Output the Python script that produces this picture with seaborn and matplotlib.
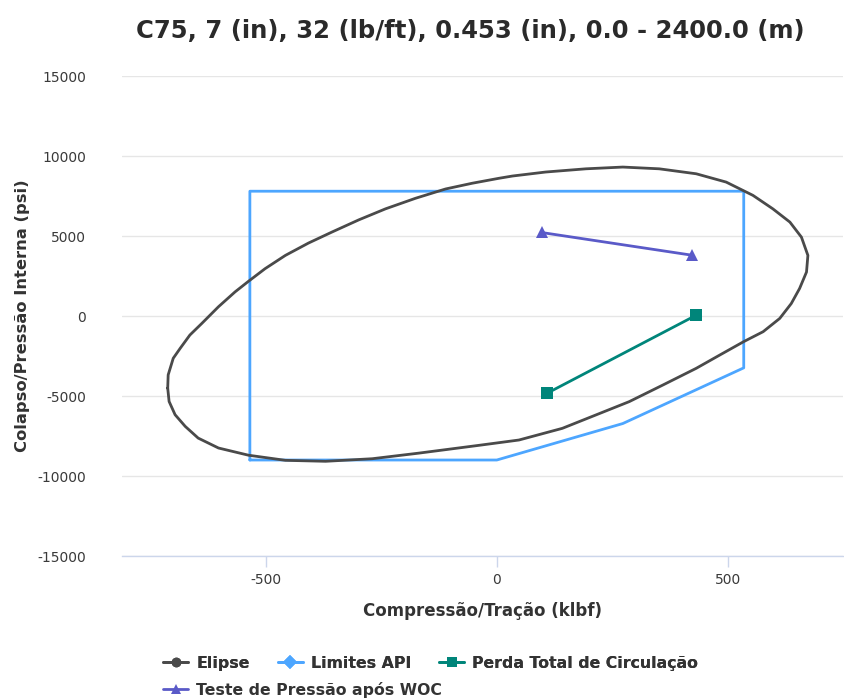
import matplotlib
matplotlib.use("Agg")
import matplotlib.pyplot as plt
import seaborn as sns
import pandas as pd
from matplotlib.lines import Line2D

# ---------------- data ----------------
title = "C75, 7 (in), 32 (lb/ft), 0.453 (in), 0.0 - 2400.0 (m)"
x_label = "Compressão/Tração (klbf)"
y_label = "Colapso/Pressão Interna (psi)"

ellipse_x = [-713, -712, -701, -686, -665, -639, -603, -567, -538, -502, -458, -408,
             -357, -299, -241, -176, -111, -53, 5, 34, 106, 193, 273, 352, 432, 497,
             555, 598, 635, 660, 674, 671, 656, 638, 613, 577, 535, 483, 432, 360,
             287, 215, 142, 48, -38, -169, -270, -371, -458, -538, -603, -647, -675,
             -697, -710, -713]
ellipse_y = [-4510, -3680, -2640, -2020, -1190, -460, 580, 1510, 2170, 2960, 3790, 4560,
             5250, 6010, 6700, 7360, 7940, 8300, 8610, 8750, 9000, 9200, 9310, 9200, 8890, 8370,
             7540, 6700, 5870, 4930, 3790, 2750, 1720, 780, -150, -980, -1600, -2440, -3270, -4310,
             -5350, -6180, -7020, -7750, -8080, -8570, -8920, -9080, -9020, -8700, -8250, -7630, -6900,
             -6170, -5340, -4510]

api_x = [-535, 0, 273, 535, 535, -535, -535]
api_y = [-9000, -9000, -6720, -3240, 7800, 7800, -9000]

perda_x = [108, 432]
perda_y = [-4840, 50]

teste_x = [97, 423]
teste_y = [5220, 3800]

x_ticks = [-500, 0, 500]
y_ticks = [-15000, -10000, -5000, 0, 5000, 10000, 15000]

names = ["Elipse", "Limites API", "Perda Total de Circulação", "Teste de Pressão após WOC"]
colors = ["#4a4a4a", "#4da6ff", "#00857a", "#5a5ac8"]
markers = ["o", "D", "s", "^"]

# ---------------- plot ----------------
sns.set_theme(style="white")
plt.rcParams["font.family"] = ["DejaVu Sans"]

fig = plt.figure(figsize=(8.45, 7.0), dpi=100)
ax = fig.add_axes([0.1444, 0.2057, 0.8532, 0.6857])

df_e = pd.DataFrame({"x": ellipse_x, "y": ellipse_y})
df_a = pd.DataFrame({"x": api_x, "y": api_y})
df_p = pd.DataFrame({"x": perda_x, "y": perda_y})
df_t = pd.DataFrame({"x": teste_x, "y": teste_y})

sns.lineplot(data=df_e, x="x", y="y", sort=False, estimator=None, ax=ax,
             color=colors[0], linewidth=2.0, zorder=3)
sns.lineplot(data=df_a, x="x", y="y", sort=False, estimator=None, ax=ax,
             color=colors[1], linewidth=2.0, zorder=2)
sns.lineplot(data=df_p, x="x", y="y", sort=False, estimator=None, ax=ax,
             color=colors[2], linewidth=2.0, marker="s", markersize=8,
             markeredgewidth=0, zorder=4)
sns.lineplot(data=df_t, x="x", y="y", sort=False, estimator=None, ax=ax,
             color=colors[3], linewidth=2.0, marker="^", markersize=9,
             markeredgewidth=0, zorder=4)

ax.set_xlim(-812, 750)
ax.set_ylim(-15000, 15000)
ax.set_xticks(x_ticks)
ax.set_yticks(y_ticks)
ax.set_xticklabels([str(v) for v in x_ticks])
ax.set_yticklabels([str(v) for v in y_ticks])

ax.grid(axis="y", color="#e6e6e6", linewidth=1.0, zorder=0)
ax.grid(axis="x", visible=False)
for s in ["top", "right", "left"]:
    ax.spines[s].set_visible(False)
ax.spines["bottom"].set_color("#ccd6eb")
ax.spines["bottom"].set_linewidth(1.0)

ax.tick_params(axis="x", which="both", bottom=True, length=8, width=1,
               color="#ccd6eb", labelsize=10, labelcolor="#3a3a3a", pad=4)
ax.tick_params(axis="y", which="both", left=False, labelsize=10,
               labelcolor="#3a3a3a", pad=20)

ax.set_xlabel(x_label, fontsize=12, fontweight="bold", color="#333333", labelpad=11)
ax.set_ylabel(y_label, fontsize=11.8, fontweight="bold", color="#333333", labelpad=5)

fig.text(0.557, 0.955, title, ha="center", va="center", fontsize=17.5,
         fontweight="semibold", color="#2a2a2a")

handles = [Line2D([0], [0], color=c, marker=m, markersize=7, linewidth=2,
                  markeredgewidth=0) for c, m in zip(colors, markers)]

leg_kw = dict(frameon=False, handlelength=1.6, handletextpad=0.5, borderpad=0,
              borderaxespad=0, labelcolor="#333333",
              prop={"size": 11.3, "weight": "bold"})
leg1 = fig.legend(handles[:3], names[:3], loc="upper left", ncol=3,
                  bbox_to_anchor=(0.193, 0.063), bbox_transform=fig.transFigure,
                  columnspacing=1.8, **leg_kw)
leg2 = fig.legend(handles[3:], names[3:], loc="upper left", ncol=1,
                  bbox_to_anchor=(0.193, 0.026), bbox_transform=fig.transFigure,
                  **leg_kw)
fig.add_artist(leg1)

fig.savefig("out.png", dpi=100, facecolor="white")
